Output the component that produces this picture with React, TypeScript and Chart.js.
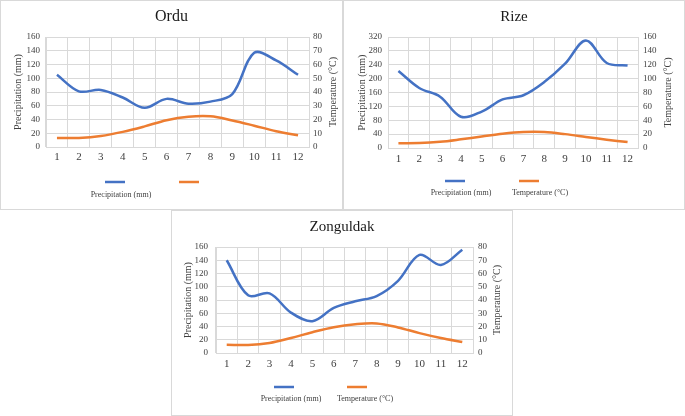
import React, { useEffect, useRef } from "react";
import { Chart, registerables } from "chart.js";

Chart.register(...registerables);

// ---- data ----
const months = ["1", "2", "3", "4", "5", "6", "7", "8", "9", "10", "11", "12"];

const orduPrecip = [105, 81, 83, 72, 57, 70, 63, 66, 77, 137, 126, 105];
const orduTemp = [6.5, 6.6, 8, 11, 15, 19.5, 22, 22.3, 19.3, 15.5, 11.5, 8.5];

const rizePrecip = [222, 173, 148, 90, 105, 140, 152, 190, 243, 310, 245, 238];
const rizeTemp = [7, 7.2, 9, 12.5, 16.5, 20.5, 23, 23, 20, 16, 12, 8.5];

const zongPrecip = [140, 87, 90, 61, 48, 68, 78, 86, 109, 148, 133, 156];
const zongTemp = [6.3, 6, 7.5, 11.3, 15.7, 19.5, 21.7, 22.3, 19.3, 15, 11.3, 8.3];

// axis ranges [max, step]
const orduPrecipAxis = [160, 20];
const orduTempAxis = [80, 10];
const rizePrecipAxis = [320, 40];
const rizeTempAxis = [160, 20];
const zongPrecipAxis = [160, 20];
const zongTempAxis = [80, 10];

const precipLabel = "Precipitation (mm)";
const tempLabel = "Temperature (°C)";

const BLUE = "#4472C4";
const ORANGE = "#ED7D31";
const GRID = "#d9d9d9";
const TEXT = "#404040";
const FONT = "'Liberation Serif', 'Times New Roman', serif";

type Panel = {
  title: string;
  precip: number[];
  temp: number[];
  pAxis: number[];
  tAxis: number[];
  x: number;
  y: number;
  w: number;
  h: number;
  area: { l: number; r: number; t: number; b: number };
  titleSize: number;
  titleY: number;
  leftTitleX: number;
  rightTitleX: number;
  xPad: number;
  lPad: number;
  rPad: number;
  legend: { y: number; ty: number; blue: number; orange: number; blueText: number; orangeText: number; showTemp: boolean };
};

const panels: Panel[] = [
  {
    title: "Ordu",
    precip: orduPrecip,
    temp: orduTemp,
    pAxis: orduPrecipAxis,
    tAxis: orduTempAxis,
    x: 0, y: 0, w: 343, h: 210,
    area: { l: 46, r: 309, t: 37, b: 147 },
    titleSize: 16, titleY: 17,
    leftTitleX: 18, rightTitleX: 333,
    xPad: 4, lPad: 6, rPad: 4,
    legend: { y: 182, ty: 195, blue: 115, orange: 189, blueText: 121, orangeText: 197, showTemp: false },
  },
  {
    title: "Rize",
    precip: rizePrecip,
    temp: rizeTemp,
    pAxis: rizePrecipAxis,
    tAxis: rizeTempAxis,
    x: 343, y: 0, w: 342, h: 210,
    area: { l: 45, r: 295, t: 37, b: 148 },
    titleSize: 15, titleY: 17,
    leftTitleX: 19, rightTitleX: 325,
    xPad: 5, lPad: 6, rPad: 5,
    legend: { y: 181, ty: 193, blue: 112, orange: 186, blueText: 118, orangeText: 197, showTemp: true },
  },
  {
    title: "Zonguldak",
    precip: zongPrecip,
    temp: zongTemp,
    pAxis: zongPrecipAxis,
    tAxis: zongTempAxis,
    x: 171, y: 210, w: 342, h: 206,
    area: { l: 45, r: 302, t: 37, b: 143 },
    titleSize: 15, titleY: 17,
    leftTitleX: 17, rightTitleX: 326,
    xPad: 5, lPad: 8, rPad: 5,
    legend: { y: 177, ty: 189, blue: 113, orange: 186, blueText: 120, orangeText: 194, showTemp: true },
  },
];

const decorPlugin = {
  id: "panelDecor",
  beforeDraw(chart: any) {
    const { ctx, width, height } = chart;
    ctx.save();
    ctx.fillStyle = "#ffffff";
    ctx.fillRect(0, 0, width, height);
    ctx.strokeStyle = GRID;
    ctx.lineWidth = 1;
    ctx.strokeRect(0.5, 0.5, width - 1, height - 1);
    ctx.restore();
  },
  afterDraw(chart: any, _args: any, opts: any) {
    const p: Panel = opts.panel;
    const { ctx } = chart;
    const ca = chart.chartArea;
    ctx.save();
    // right axis title (reads bottom-to-top)
    ctx.fillStyle = TEXT;
    ctx.font = `10px ${FONT}`;
    ctx.textAlign = "center";
    ctx.textBaseline = "middle";
    ctx.translate(p.rightTitleX, (ca.top + ca.bottom) / 2);
    ctx.rotate(-Math.PI / 2);
    ctx.fillText(tempLabel, 0, 0);
    ctx.restore();

    // legend
    const lg = p.legend;
    ctx.save();
    ctx.lineWidth = 2.5;
    ctx.lineCap = "butt";
    ctx.strokeStyle = BLUE;
    ctx.beginPath();
    ctx.moveTo(lg.blue - 10, lg.y);
    ctx.lineTo(lg.blue + 10, lg.y);
    ctx.stroke();
    ctx.strokeStyle = ORANGE;
    ctx.beginPath();
    ctx.moveTo(lg.orange - 10, lg.y);
    ctx.lineTo(lg.orange + 10, lg.y);
    ctx.stroke();
    ctx.fillStyle = TEXT;
    ctx.font = `8px ${FONT}`;
    ctx.textAlign = "center";
    ctx.textBaseline = "middle";
    ctx.fillText(precipLabel, lg.blueText, lg.ty);
    if (lg.showTemp) ctx.fillText(tempLabel, lg.orangeText, lg.ty);
    ctx.restore();
  },
};

function ChartPanel({ p }: { p: Panel }) {
  const ref = useRef<HTMLCanvasElement>(null);
  useEffect(() => {
    const canvas = ref.current!;
    const a = p.area;
    const titleLH = p.titleSize * 1.2;
    const titleTop = p.titleY - titleLH / 2;
    const titleBottom = a.t - titleTop - titleLH;
    const chart = new Chart(canvas, {
      type: "line",
      data: {
        labels: months,
        datasets: [
          {
            label: precipLabel,
            data: p.precip,
            borderColor: BLUE,
            backgroundColor: BLUE,
            borderWidth: 2.5,
            pointRadius: 0,
            tension: 0.35,
            yAxisID: "y",
          },
          {
            label: tempLabel,
            data: p.temp,
            borderColor: ORANGE,
            backgroundColor: ORANGE,
            borderWidth: 2.5,
            pointRadius: 0,
            tension: 0.35,
            yAxisID: "y1",
          },
        ],
      },
      options: {
        responsive: false,
        animation: false,
        devicePixelRatio: 1,
        layout: { padding: 0 },
        plugins: {
          legend: { display: false },
          tooltip: { enabled: false },
          title: {
            display: true,
            text: p.title,
            color: "#1a1a1a",
            font: { family: FONT, size: p.titleSize, weight: "normal", lineHeight: 1.2 },
            padding: { top: titleTop, bottom: titleBottom },
          },
          panelDecor: { panel: p },
        } as any,
        scales: {
          x: {
            type: "category",
            offset: true,
            grid: { offset: true, color: GRID, drawTicks: false },
            border: { color: GRID },
            ticks: {
              color: TEXT,
              font: { family: FONT, size: 11 },
              padding: p.xPad,
              maxRotation: 0,
              autoSkip: false,
            },
            afterFit: (s: any) => {
              s.height = p.h - a.b;
            },
          },
          y: {
            position: "left",
            min: 0,
            max: p.pAxis[0],
            grid: { color: GRID, drawTicks: false },
            border: { color: GRID },
            ticks: {
              stepSize: p.pAxis[1],
              autoSkip: false,
              color: TEXT,
              font: { family: FONT, size: 9 },
              padding: p.lPad,
            },
            title: {
              display: true,
              text: precipLabel,
              color: TEXT,
              font: { family: FONT, size: 10, lineHeight: 1.2 },
              padding: { top: p.leftTitleX - 6, bottom: 0 },
            },
            afterFit: (s: any) => {
              s.width = a.l;
            },
          },
          y1: {
            position: "right",
            min: 0,
            max: p.tAxis[0],
            grid: { display: false, drawTicks: false },
            border: { color: GRID },
            ticks: {
              stepSize: p.tAxis[1],
              autoSkip: false,
              color: TEXT,
              font: { family: FONT, size: 9 },
              padding: p.rPad,
            },
            afterFit: (s: any) => {
              s.width = p.w - a.r;
            },
          },
        },
      } as any,
      plugins: [decorPlugin as any],
    });
    return () => chart.destroy();
  }, []);
  return (
    <canvas
      ref={ref}
      width={p.w}
      height={p.h}
      style={{ position: "absolute", left: p.x, top: p.y, width: p.w, height: p.h, display: "block" }}
    />
  );
}

export default function App() {
  return (
    <div style={{ position: "absolute", left: 0, top: 0, width: 685, height: 416, background: "#fff", overflow: "hidden" }}>
      {panels.map((p) => (
        <ChartPanel key={p.title} p={p} />
      ))}
    </div>
  );
}
